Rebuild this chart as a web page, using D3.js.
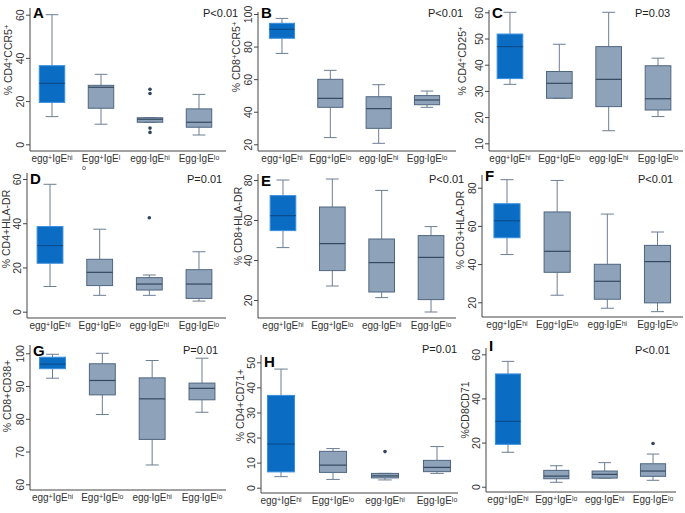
<!DOCTYPE html>
<html>
<head>
<meta charset="utf-8">
<script src="https://cdn.jsdelivr.net/npm/d3@7"></script>
<style>
  body { margin: 0; background: #fff; }
  svg { display: block; font-family: "Liberation Sans", Arial, sans-serif; }
</style>
</head>
<body>
<div id="chart"></div>
<script>
// group names, odd parts are superscripts
const categories = ['egg+IgEhi', 'Egg+IgElo', 'egg-IgEhi', 'Egg-IgElo'];
const labelParts = [['egg', '+', 'IgE', 'hi'], ['Egg', '+', 'IgE', 'lo'], ['egg', '-', 'IgE', 'hi'], ['Egg', '-', 'IgE', 'lo']];

// box stats per group: [low whisker, q1, median, q3, high whisker]
const statsA = [[12.8, 19.4, 28.2, 36.4, 60], [9.3, 16.7, 26.4, 27.3, 32.4], [10.2, 10.2, 11.6, 12.3, 12.3], [4.3, 7.9, 10.2, 16.4, 23.1]];
const statsB = [[75.8, 85.1, 90.6, 94.3, 97.3], [24.1, 42.7, 48.2, 59.9, 65.4], [20.6, 29.8, 41.9, 49.2, 56.6], [42.7, 44.3, 47.2, 49.9, 52.7]];
const statsC = [[32.5, 34.7, 46.9, 51.7, 60], [27.2, 27.2, 32.9, 37.4, 47.8], [14.8, 24, 34.4, 46.9, 60], [20.2, 22.7, 27, 39.6, 42.5]];
const statsD = [[11.4, 21.9, 29.9, 38.5, 57.6], [7.4, 11.8, 17.8, 23.7, 37.3], [7.4, 9.8, 12.5, 15.4, 16.6], [4.8, 6, 12.5, 19, 27.1]];
const statsE = [[46.2, 54.7, 62.2, 72.2, 80], [27, 34.7, 48.2, 66.5, 80.5], [21.2, 24, 38.7, 50.5, 74.8], [14, 20.2, 41.3, 52.2, 56.7]];
const statsF = [[45, 53.8, 62.7, 71.6, 84.2], [23.7, 35.7, 46.7, 67.3, 83.8], [16.9, 21.6, 31, 39.9, 66.2], [15.1, 19.7, 41.3, 49.8, 56.8]];
const statsG = [[92.4, 95.3, 96.7, 98.8, 99.7], [81.3, 87.3, 91.7, 96.8, 100], [65.9, 73.7, 86.1, 92.5, 97.8], [82, 85.8, 89.3, 90.9, 98.5]];
const statsH = [[4.4, 6.3, 17.4, 36.8, 47.3], [3.3, 6.1, 9, 14.5, 15.6], [3.1, 3.9, 4.7, 5.7, 5.7], [5.7, 6.4, 8.1, 10.9, 16.4]];
const statsI = [[15.6, 19.2, 29.6, 51.1, 56.8], [2, 3.6, 4.8, 7.4, 9.5], [3.9, 3.9, 5.6, 7.1, 10.9], [2.9, 4.7, 7.1, 10.4, 14.8]];

// outlier points per group
const outliersA = [[], [], [25.5, 23.5, 7.5, 5.5], []];
const outliersD = [[], [], [42.5], []];
const outliersH = [[], [], [14.4], []];
const outliersI = [[], [], [], [19.6]];

const panelLetters = ['A', 'B', 'C', 'D', 'E', 'F', 'G', 'H', 'I'];
const pValues = ['P<0.01', 'P<0.01', 'P=0.03', 'P=0.01', 'P<0.01', 'P<0.01', 'P=0.01', 'P=0.01', 'P<0.01'];
const yLabels = [
  ['% CD4', '+', 'CCR5', '+'], ['% CD8', '+', 'CCR5', '+'], ['% CD4', '+', 'CD25', '+'],
  ['% CD4+HLA-DR'], ['% CD8+HLA-DR'], ['% CD3+HLA-DR'],
  ['% CD8+CD38+'], ['% CD4+CD71+'], ['%CD8CD71']
];
const yTicks = [[0, 20, 40, 60], [20, 40, 60, 80, 100], [10, 20, 30, 40, 50, 60],
  [0, 20, 40, 60], [20, 40, 60, 80], [20, 40, 60, 80],
  [60, 70, 80, 90, 100], [0, 10, 20, 30, 40, 50], [0, 20, 40, 60]];

const panelStats = [statsA, statsB, statsC, statsD, statsE, statsF, statsG, statsH, statsI];
const none = [[], [], [], []];
const panelOutliers = [outliersA, none, none, outliersD, none, none, none, outliersH, outliersI];

// layout: axis x, axis top, right end, baseline, y range for first/last tick, x range for groups,
// y-label centre, letter baseline, p-text position
const layout = [
  { ax: 30, top: 8, right: 226, base: 151, yr: [144.3, 14.7], xr: [27.5, 223.5], yl: [8, 60], lt: 18, p: [203, 17] },
  { ax: 258, top: 12, right: 456, base: 151, yr: [144.3, 14], xr: [257.8, 451.2], yl: [236, 57], lt: 18, p: [428, 17] },
  { ax: 489, top: 10, right: 683, base: 151, yr: [143.3, 12.3], xr: [485.3, 682.7], yl: [462, 61], lt: 18, p: [635, 17] },
  { ax: 27, top: 173, right: 226, base: 318, yr: [311.7, 179], xr: [25.2, 223.8], yl: [6, 229], lt: 184, p: [187, 183] },
  { ax: 258, top: 174, right: 456, base: 318, yr: [300, 180], xr: [258.3, 455.7], yl: [238, 226], lt: 186, p: [429, 183] },
  { ax: 482, top: 175, right: 683, base: 317, yr: [302.3, 187.7], xr: [481.9, 682.6], yl: [460, 230], lt: 181, p: [638, 183] },
  { ax: 30, top: 345, right: 226, base: 490, yr: [484.3, 353.3], xr: [27.6, 226.9], yl: [7, 396], lt: 356, p: [183, 354] },
  { ax: 261, top: 355, right: 458, base: 493, yr: [487.7, 362.3], xr: [255, 463], yl: [240, 405], lt: 367, p: [422, 353] },
  { ax: 486, top: 348, right: 676, base: 492, yr: [486.7, 354.3], xr: [483.8, 677.2], yl: [465, 410], lt: 351, p: [635, 354] }
];

const blueFill = '#0b6cc3', blueEdge = '#3b8fdc', blueMed = '#0a4d8c';
const greyFill = '#8ea2ba', greyEdge = '#4f6680', greyMed = '#34495f';
const whiskerColor = '#6c7e92';

const svg = d3.select('#chart').append('svg')
  .attr('width', 685)
  .attr('height', 513);

svg.append('rect').attr('width', 685).attr('height', 513).attr('fill', '#fff');

function addParts(text, parts, supSize) {
  parts.forEach((t, i) => {
    let ts = text.append('tspan').text(t);
    if (i % 2 === 1) ts.attr('font-size', supSize).attr('baseline-shift', '35%');
  });
}

panelStats.forEach((stats, k) => {
  let L = layout[k];
  let g = svg.append('g');

  let x = d3.scalePoint().domain(categories).range(L.xr).padding(0.5);
  let t = yTicks[k];
  let y = d3.scaleLinear().domain([t[0], t[t.length - 1]]).range(L.yr);
  let bw = x.step() * 0.52;

  // y axis
  let yAxis = g.append('g')
    .attr('transform', `translate(${L.ax},0)`)
    .call(d3.axisLeft(y).tickValues(t).tickSize(4).tickFormat(d3.format('d')));
  yAxis.select('.domain').remove();
  yAxis.selectAll('line').attr('stroke', '#444');
  yAxis.selectAll('text')
    .attr('x', 0).attr('y', -6).attr('dy', 0)
    .attr('transform', 'rotate(-90)')
    .attr('text-anchor', 'middle')
    .attr('font-size', 10.5)
    .attr('font-family', '"Liberation Sans", Arial, sans-serif')
    .attr('fill', '#333');

  g.append('line')
    .attr('x1', L.ax).attr('x2', L.ax)
    .attr('y1', L.top).attr('y2', L.base)
    .attr('stroke', '#444');
  g.append('line')
    .attr('x1', L.ax).attr('x2', L.right)
    .attr('y1', L.base).attr('y2', L.base)
    .attr('stroke', '#444');

  // boxes
  let boxes = g.selectAll('.box')
    .data(stats)
    .enter().append('g')
    .attr('class', 'box')
    .attr('transform', (d, i) => `translate(${x(categories[i])},0)`);

  boxes.append('line')
    .attr('y1', d => y(d[4])).attr('y2', d => y(d[3]))
    .attr('stroke', whiskerColor);
  boxes.append('line')
    .attr('y1', d => y(d[1])).attr('y2', d => y(d[0]))
    .attr('stroke', whiskerColor);
  boxes.append('line')
    .attr('x1', -bw / 4).attr('x2', bw / 4)
    .attr('y1', d => y(d[4])).attr('y2', d => y(d[4]))
    .attr('stroke', whiskerColor);
  boxes.append('line')
    .attr('x1', -bw / 4).attr('x2', bw / 4)
    .attr('y1', d => y(d[0])).attr('y2', d => y(d[0]))
    .attr('stroke', whiskerColor);

  boxes.append('rect')
    .attr('x', -bw / 2)
    .attr('width', bw)
    .attr('y', d => y(d[3]))
    .attr('height', d => Math.max(1.5, y(d[1]) - y(d[3])))
    .attr('fill', (d, i) => i === 0 ? blueFill : greyFill)
    .attr('stroke', (d, i) => i === 0 ? blueEdge : greyEdge)
    .attr('stroke-width', 1);

  boxes.append('line')
    .attr('x1', -bw / 2).attr('x2', bw / 2)
    .attr('y1', d => y(d[2])).attr('y2', d => y(d[2]))
    .attr('stroke', (d, i) => i === 0 ? blueMed : greyMed)
    .attr('stroke-width', 1.2);

  boxes.each(function(d, i) {
    d3.select(this).selectAll('circle')
      .data(panelOutliers[k][i])
      .enter().append('circle')
      .attr('cy', v => y(v))
      .attr('r', 1.8)
      .attr('fill', '#2e4560');
  });

  // category labels
  categories.forEach((c, i) => {
    let parts = labelParts[i];
    if (k === 0 && i === 1) parts = ['Egg', '+', 'IgE', 'l'];
    let txt = g.append('text')
      .attr('x', x(c))
      .attr('y', L.base + 11)
      .attr('text-anchor', 'middle')
      .attr('font-size', 10)
      .attr('fill', '#333');
    addParts(txt, parts, 7);
    if (k === 0 && i === 1) {
      // stray "o" below the label, as in the source figure
      g.append('text')
        .attr('x', x(c) - 19).attr('y', L.base + 19)
        .attr('font-size', 7).attr('fill', '#333')
        .text('o');
    }
  });

  // y label
  let yl = g.append('text')
    .attr('transform', `translate(${L.yl[0] + 4},${L.yl[1]}) rotate(-90)`)
    .attr('text-anchor', 'middle')
    .attr('font-size', 10.5)
    .attr('fill', '#333');
  addParts(yl, yLabels[k], 7.5);

  g.append('text')
    .attr('x', L.ax + 3).attr('y', L.lt)
    .attr('font-size', 15).attr('font-weight', 'bold')
    .attr('fill', '#000')
    .text(panelLetters[k]);

  g.append('text')
    .attr('x', L.p[0]).attr('y', L.p[1])
    .attr('font-size', 11).attr('fill', '#222')
    .text(pValues[k]);
});
</script>
</body>
</html>
